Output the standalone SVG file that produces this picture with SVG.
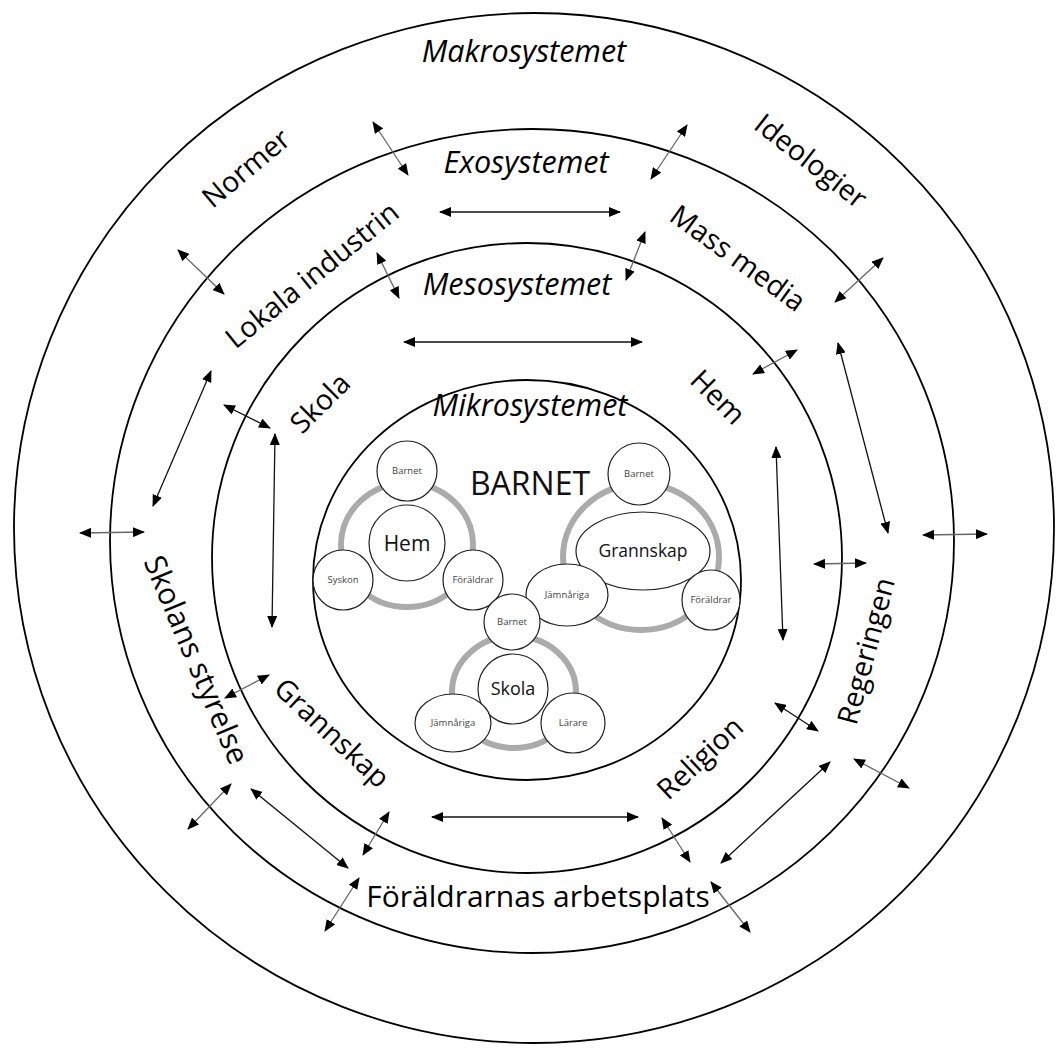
<svg xmlns="http://www.w3.org/2000/svg" width="1056" height="1048" viewBox="0 0 1056 1048">
<defs>
<marker id="ah" viewBox="0 0 12 10" markerUnits="userSpaceOnUse" markerWidth="12" markerHeight="10" refX="11" refY="5" orient="auto-start-reverse">
<path d="M0,0 L12,5 L0,10 z" fill="#000"/>
</marker>
<style>
.ring{fill:none;stroke:#000;stroke-width:1.8}
.lbl{font-family:"Open Sans","DejaVu Sans",sans-serif;font-size:30px;fill:#000;text-anchor:middle}
.rl{font-size:28.5px}
.sys{font-style:italic;font-size:30.5px}
.ar{stroke:#111;stroke-width:1.3;fill:none;marker-start:url(#ah);marker-end:url(#ah)}
.ag{stroke:#666}
.grey{fill:none;stroke:#ababab;stroke-width:6}
.nd{fill:#fff;stroke:#222;stroke-width:1.2}
.sm{font-family:"Open Sans","DejaVu Sans",sans-serif;font-size:9.5px;fill:#444;text-anchor:middle}
.md{font-family:"Open Sans","DejaVu Sans",sans-serif;fill:#111;text-anchor:middle}
</style>
</defs>
<rect width="1056" height="1048" fill="#fff"/>

<g id="makro">
<ellipse class="ring" cx="534" cy="528" rx="520" ry="515"/>
<text class="lbl sys" x="524" y="62">Makrosystemet</text>
<text class="lbl rl" transform="translate(246,168) rotate(-40)" y="10">Normer</text>
<text class="lbl rl" transform="translate(811,161) rotate(38)" y="10">Ideologier</text>
</g>

<g id="exo">
<ellipse class="ring" cx="532" cy="541" rx="422" ry="412"/>
<text class="lbl sys" x="526" y="173">Exosystemet</text>
<text class="lbl rl" transform="translate(312,275) rotate(-39)" y="10">Lokala industrin</text>
<text class="lbl rl" transform="translate(738,258) rotate(36)" y="10">Mass media</text>
<text class="lbl" transform="translate(196,660) rotate(67)" y="10">Skolans styrelse</text>
<text class="lbl rl" transform="translate(866,651) rotate(-75)" y="10">Regeringen</text>
<text class="lbl" x="538" y="907" font-size="28">Föräldrarnas arbetsplats</text>
</g>

<g id="meso">
<ellipse class="ring" cx="527" cy="558" rx="315" ry="315"/>
<text class="lbl sys" x="517" y="295">Mesosystemet</text>
<text class="lbl rl" transform="translate(320,403) rotate(-45)" y="10">Skola</text>
<text class="lbl rl" transform="translate(718,397) rotate(45)" y="10">Hem</text>
<text class="lbl rl" transform="translate(332,733) rotate(43)" y="10">Grannskap</text>
<text class="lbl rl" transform="translate(700,758) rotate(-43)" y="10">Religion</text>
</g>

<g id="mikro">
<ellipse class="ring" cx="527" cy="580" rx="214" ry="200"/>
<text class="lbl sys" x="530" y="416">Mikrosystemet</text>
<text class="md" x="530" y="495" font-size="32">BARNET</text>
</g>

<g id="hem-cluster">
<ellipse class="grey" cx="407" cy="545" rx="66" ry="62"/>
<circle class="nd" cx="407" cy="543" r="38"/>
<text class="md" x="407" y="551" font-size="21">Hem</text>
<circle class="nd" cx="407" cy="471" r="30"/>
<text class="sm" x="407" y="474">Barnet</text>
<circle class="nd" cx="343" cy="580" r="30"/>
<text class="sm" x="343" y="583">Syskon</text>
<circle class="nd" cx="473" cy="580" r="30"/>
<text class="sm" x="473" y="583">Föräldrar</text>
</g>

<g id="grannskap-cluster">
<ellipse class="grey" cx="641" cy="557" rx="78" ry="73"/>
<circle class="nd" cx="639" cy="474" r="31"/>
<text class="sm" x="639" y="477">Barnet</text>
<ellipse class="nd" cx="643" cy="551" rx="67" ry="39"/>
<text class="md" x="643" y="557" font-size="17.5">Grannskap</text>
<ellipse class="nd" cx="567" cy="595" rx="41" ry="31"/>
<text class="sm" x="567" y="598">Jämnåriga</text>
<ellipse class="nd" cx="711" cy="600" rx="29" ry="30"/>
<text class="sm" x="711" y="603">Föräldrar</text>
</g>

<g id="skola-cluster">
<ellipse class="grey" cx="514" cy="692" rx="62" ry="56"/>
<ellipse class="nd" cx="512" cy="622" rx="28" ry="28"/>
<text class="sm" x="512" y="625">Barnet</text>
<ellipse class="nd" cx="513" cy="689" rx="35" ry="35"/>
<text class="md" x="513" y="695" font-size="18">Skola</text>
<ellipse class="nd" cx="453" cy="723" rx="38" ry="29"/>
<text class="sm" x="453" y="726">Jämnåriga</text>
<ellipse class="nd" cx="573" cy="723" rx="32" ry="30"/>
<text class="sm" x="573" y="726">Lärare</text>
</g>

<g id="connectors">
<line class="ar ag" x1="373" y1="122" x2="408" y2="175"/>
<line class="ar ag" x1="687" y1="125" x2="651" y2="179"/>
<line class="ar" x1="440" y1="212" x2="620" y2="212"/>
<line class="ar ag" x1="377" y1="253" x2="399" y2="298"/>
<line class="ar ag" x1="645" y1="232" x2="626" y2="280"/>
<line class="ar" x1="404" y1="342" x2="642" y2="342"/>
<line class="ar ag" x1="178" y1="250" x2="224" y2="294"/>
<line class="ar" x1="211" y1="371" x2="153" y2="506"/>
<line class="ar" x1="224" y1="405" x2="270" y2="428"/>
<line class="ar" x1="275" y1="434" x2="272" y2="627"/>
<line class="ar ag" x1="80" y1="533" x2="144" y2="532"/>
<line class="ar" x1="776" y1="447" x2="783" y2="640"/>
<line class="ar ag" x1="814" y1="564" x2="866" y2="563"/>
<line class="ar ag" x1="923" y1="535" x2="987" y2="534"/>
<line class="ar" x1="838" y1="343" x2="888" y2="533"/>
<line class="ar ag" x1="883" y1="258" x2="835" y2="302"/>
<line class="ar ag" x1="797" y1="350" x2="753" y2="374"/>
<line class="ar ag" x1="269" y1="675" x2="225" y2="698"/>
<line class="ar" x1="775" y1="703" x2="818" y2="731"/>
<line class="ar ag" x1="854" y1="759" x2="909" y2="788"/>
<line class="ar" x1="830" y1="762" x2="721" y2="863"/>
<line class="ar ag" x1="231" y1="784" x2="188" y2="829"/>
<line class="ar" x1="251" y1="789" x2="348" y2="868"/>
<line class="ar ag" x1="389" y1="812" x2="363" y2="855"/>
<line class="ar" x1="432" y1="817" x2="638" y2="817"/>
<line class="ar ag" x1="662" y1="818" x2="690" y2="862"/>
<line class="ar ag" x1="359" y1="878" x2="325" y2="931"/>
<line class="ar ag" x1="711" y1="882" x2="750" y2="932"/>
</g>
</svg>
